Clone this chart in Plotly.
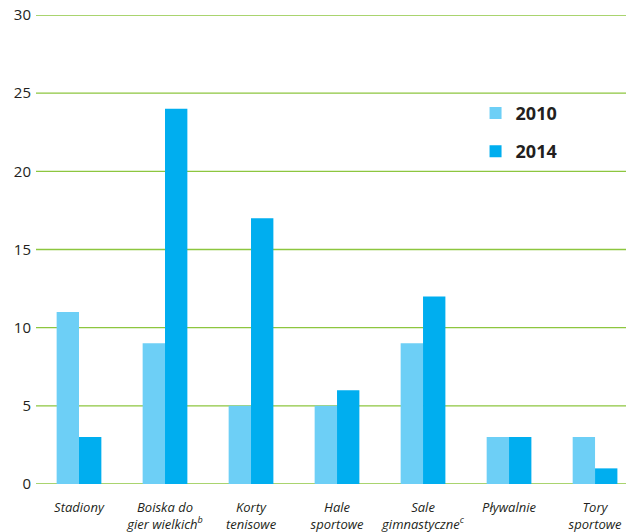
import plotly.graph_objects as go

categories = ["Stadiony", "Boiska do<br>gier wielkich<sup>b</sup>", "Korty<br>tenisowe",
              "Hale<br>sportowe", "Sale<br>gimnastyczne<sup>c</sup>", "Pływalnie", "Tory<br>sportowe"]
v2010 = [11, 9, 5, 5, 9, 3, 3]
v2014 = [3, 24, 17, 6, 12, 3, 1]
yticks = [0, 5, 10, 15, 20, 25, 30]

GREEN = "#8DC63F"

fig = go.Figure()
fig.add_trace(go.Bar(x=categories, y=v2010, name="2010", marker_color="#6DCFF6",
                     legendgroup="a"))
fig.add_trace(go.Bar(x=categories, y=v2014, name="2014", marker_color="#00AEEF",
                     legendgroup="b"))

for v in yticks:
    fig.add_hline(y=v, line_color=GREEN, line_width=1.3, layer="below")

fig.update_layout(
    template="none",
    width=626, height=532,
    margin=dict(l=36, r=0, t=15, b=48, autoexpand=False),
    paper_bgcolor="white", plot_bgcolor="white",
    barmode="group", bargap=0.48, bargroupgap=0,
    font=dict(family="Open Sans, Liberation Sans, sans-serif", color="#231F20"),
    legend=dict(x=0.745, y=0.83, xanchor="left", yanchor="top",
                font=dict(size=18, color="#231F20", family="Open Sans, sans-serif", weight="bold"),
                tracegroupgap=12, bgcolor="rgba(0,0,0,0)"),
    xaxis=dict(type="category", range=[-0.5, 6.36], showgrid=False, showline=False,
               automargin=False, ticks="", ticklabelstandoff=14,
               tickfont=dict(size=13, style="italic", color="#231F20")),
    yaxis=dict(range=[0, 30], tickvals=yticks, showgrid=False,
               zeroline=False, showline=False, ticks="", automargin=False,
               ticklabelstandoff=4, tickfont=dict(size=15, color="#231F20")),
)
fig.write_html("out.html", config={"displayModeBar": False},
               post_script="document.body.style.margin='0';document.body.style.padding='0';")
